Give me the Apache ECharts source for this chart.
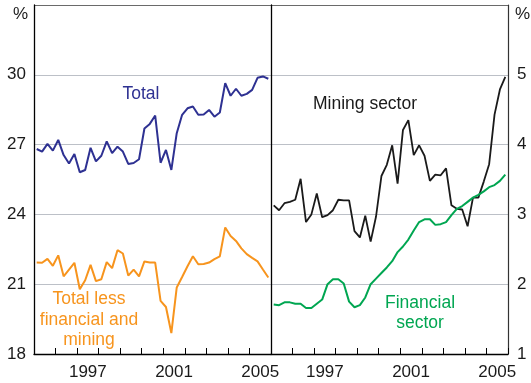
<!DOCTYPE html>
<html>
<head>
<meta charset="utf-8">
<script src="https://cdn.jsdelivr.net/npm/echarts@6/dist/echarts.min.js"></script>
<style>
  html, body { margin: 0; padding: 0; background: #fff; }
  #chart { width: 531px; height: 383px; }
</style>
</head>
<body>
<div id="chart"></div>
<script>
// Calendar years shown on both panels (quarterly data, 1995 Q1 – 2005 Q4)
const years = ['1995','1996','1997','1998','1999','2000','2001','2002','2003','2004','2005'];
const labelledYears = ['1997', '2001', '2005'];
const firstYear = 1995;

// Left panel, per cent
const totalPct = [
  26.81, 26.70, 27.03, 26.74, 27.20, 26.55, 26.19, 26.60, 25.81, 25.91, 26.86,
  26.28, 26.52, 27.14, 26.63, 26.91, 26.70, 26.17, 26.21, 26.37, 27.69, 27.89,
  28.25, 26.22, 26.77, 25.91, 27.49, 28.28, 28.56, 28.64, 28.28, 28.29, 28.49,
  28.20, 28.38, 29.64, 29.10, 29.40, 29.10, 29.18, 29.35, 29.87, 29.93, 29.83
];
const totalLessFinMiningPct = [
  21.93, 21.92, 22.09, 21.79, 22.24, 21.34, 21.63, 21.92, 20.78, 21.17, 21.83,
  21.13, 21.21, 21.95, 21.69, 22.46, 22.32, 21.37, 21.63, 21.34, 21.98, 21.93,
  21.93, 20.28, 20.02, 18.90, 20.86, 21.31, 21.77, 22.20, 21.86, 21.87, 21.93,
  22.08, 22.20, 23.44, 23.07, 22.86, 22.54, 22.29, 22.13, 21.98, 21.63, 21.29
];

// Right panel, per cent
const miningPct = [
  3.13, 3.06, 3.16, 3.18, 3.21, 3.51, 2.89, 3.00, 3.30, 2.96, 2.99,
  3.06, 3.21, 3.20, 3.20, 2.76, 2.67, 2.98, 2.61, 2.97, 3.55, 3.71,
  3.99, 3.44, 4.21, 4.35, 3.85, 3.99, 3.84, 3.48, 3.57, 3.56, 3.66,
  3.13, 3.08, 3.07, 2.83, 3.24, 3.24, 3.47, 3.72, 4.43, 4.79, 4.97
];
const financialPct = [
  1.71, 1.70, 1.74, 1.74, 1.72, 1.72, 1.66, 1.66, 1.72, 1.78, 2.00,
  2.07, 2.07, 2.01, 1.75, 1.67, 1.70, 1.81, 2.00, 2.08, 2.16, 2.24,
  2.33, 2.46, 2.54, 2.64, 2.77, 2.89, 2.93, 2.93, 2.85, 2.86, 2.89,
  2.99, 3.08, 3.12, 3.18, 3.24, 3.28, 3.33, 3.39, 3.42, 3.48, 3.57
];

// Place each quarterly observation at the middle of its quarter
const toPoints = vals => vals.map((v, i) => [firstYear + (i + 0.5) / 4, v]);

const FONT = "'Liberation Sans', Arial, sans-serif";
const TEXT = '#1a1a1a';
const GRID_LINE = '#bcc0c7';
const FRAME = '#6a6a6a';

const chart = echarts.init(document.getElementById('chart'), null, { renderer: 'canvas' });

function yearAxis(gridIndex) {
  return {
    gridIndex, type: 'category', data: years, position: 'bottom',
    boundaryGap: true,
    axisLine: { show: true, lineStyle: { color: '#000', width: 1.3 } },
    axisTick: { show: true, inside: true, length: 6, interval: 0, lineStyle: { color: '#000' } },
    axisLabel: {
      interval: (i, v) => labelledYears.includes(v),
      color: TEXT, fontFamily: FONT, fontSize: 17, margin: 10
    },
    splitLine: { show: false }, z: 5
  };
}
function timeAxis(gridIndex) {
  return { gridIndex, type: 'value', min: firstYear, max: firstYear + years.length, show: false };
}

chart.setOption({
  animation: false,
  backgroundColor: '#fff',
  grid: [
    { left: 34, top: 5, width: 237, height: 349 },
    { left: 271, top: 5, width: 237, height: 349 }
  ],
  xAxis: [timeAxis(0), yearAxis(0), timeAxis(1), yearAxis(1)],
  yAxis: [
    {
      gridIndex: 0, type: 'value', position: 'left', min: 18, max: 33, interval: 3,
      axisLine: { show: true, lineStyle: { color: '#000', width: 1.3 } },
      axisTick: { show: false },
      axisLabel: {
        formatter: v => (v === 33 ? '' : String(v)),
        color: TEXT, fontFamily: FONT, fontSize: 17, margin: 8
      },
      splitLine: { show: true, lineStyle: { color: [GRID_LINE, GRID_LINE, GRID_LINE, GRID_LINE, GRID_LINE, FRAME], width: 1.2 } }
    },
    {
      gridIndex: 1, type: 'value', position: 'right', min: 1, max: 6, interval: 1,
      axisLine: { show: true, lineStyle: { color: '#333', width: 1.2 } },
      axisTick: { show: false },
      axisLabel: {
        formatter: v => (v === 6 ? '' : String(v)),
        color: TEXT, fontFamily: FONT, fontSize: 17, margin: 9
      },
      splitLine: { show: true, lineStyle: { color: [GRID_LINE, GRID_LINE, GRID_LINE, GRID_LINE, GRID_LINE, FRAME], width: 1.2 } }
    },
    {
      // divider between the two panels
      gridIndex: 1, type: 'value', position: 'left', min: 1, max: 6, interval: 1,
      axisLine: { show: true, lineStyle: { color: '#000', width: 1.3 } },
      axisTick: { show: false }, axisLabel: { show: false }, splitLine: { show: false }
    }
  ],
  series: [
    {
      name: 'Total', type: 'line', xAxisIndex: 0, yAxisIndex: 0,
      data: toPoints(totalPct), symbol: 'none',
      lineStyle: { color: '#2e3192', width: 2 }, z: 3
    },
    {
      name: 'Total less financial and mining', type: 'line', xAxisIndex: 0, yAxisIndex: 0,
      data: toPoints(totalLessFinMiningPct), symbol: 'none',
      lineStyle: { color: '#f7941d', width: 2 }, z: 3
    },
    {
      name: 'Mining sector', type: 'line', xAxisIndex: 2, yAxisIndex: 1,
      data: toPoints(miningPct), symbol: 'none',
      lineStyle: { color: '#1a1a1a', width: 1.8 }, z: 3
    },
    {
      name: 'Financial sector', type: 'line', xAxisIndex: 2, yAxisIndex: 1,
      data: toPoints(financialPct), symbol: 'none',
      lineStyle: { color: '#00a651', width: 2 }, z: 3
    }
  ],
  graphic: [
    { type: 'text', left: 13, top: 6, style: { text: '%', fill: TEXT, font: `17px ${FONT}` } },
    { type: 'text', left: 515, top: 6, style: { text: '%', fill: TEXT, font: `17px ${FONT}` } },
    { type: 'text', x: 141, y: 94, style: { text: 'Total', fill: '#2e3192', font: `17.5px ${FONT}`, textAlign: 'center', textVerticalAlign: 'middle' } },
    { type: 'text', x: 89, y: 320, style: { text: 'Total less\nfinancial and\nmining', fill: '#f7941d', font: `17.5px ${FONT}`, lineHeight: 20.5, textAlign: 'center', textVerticalAlign: 'middle' } },
    { type: 'text', x: 365, y: 104, style: { text: 'Mining sector', fill: TEXT, font: `17.5px ${FONT}`, textAlign: 'center', textVerticalAlign: 'middle' } },
    { type: 'text', x: 420, y: 313, style: { text: 'Financial\nsector', fill: '#00a651', font: `17.5px ${FONT}`, lineHeight: 20, textAlign: 'center', textVerticalAlign: 'middle' } }
  ]
});
</script>
</body>
</html>
